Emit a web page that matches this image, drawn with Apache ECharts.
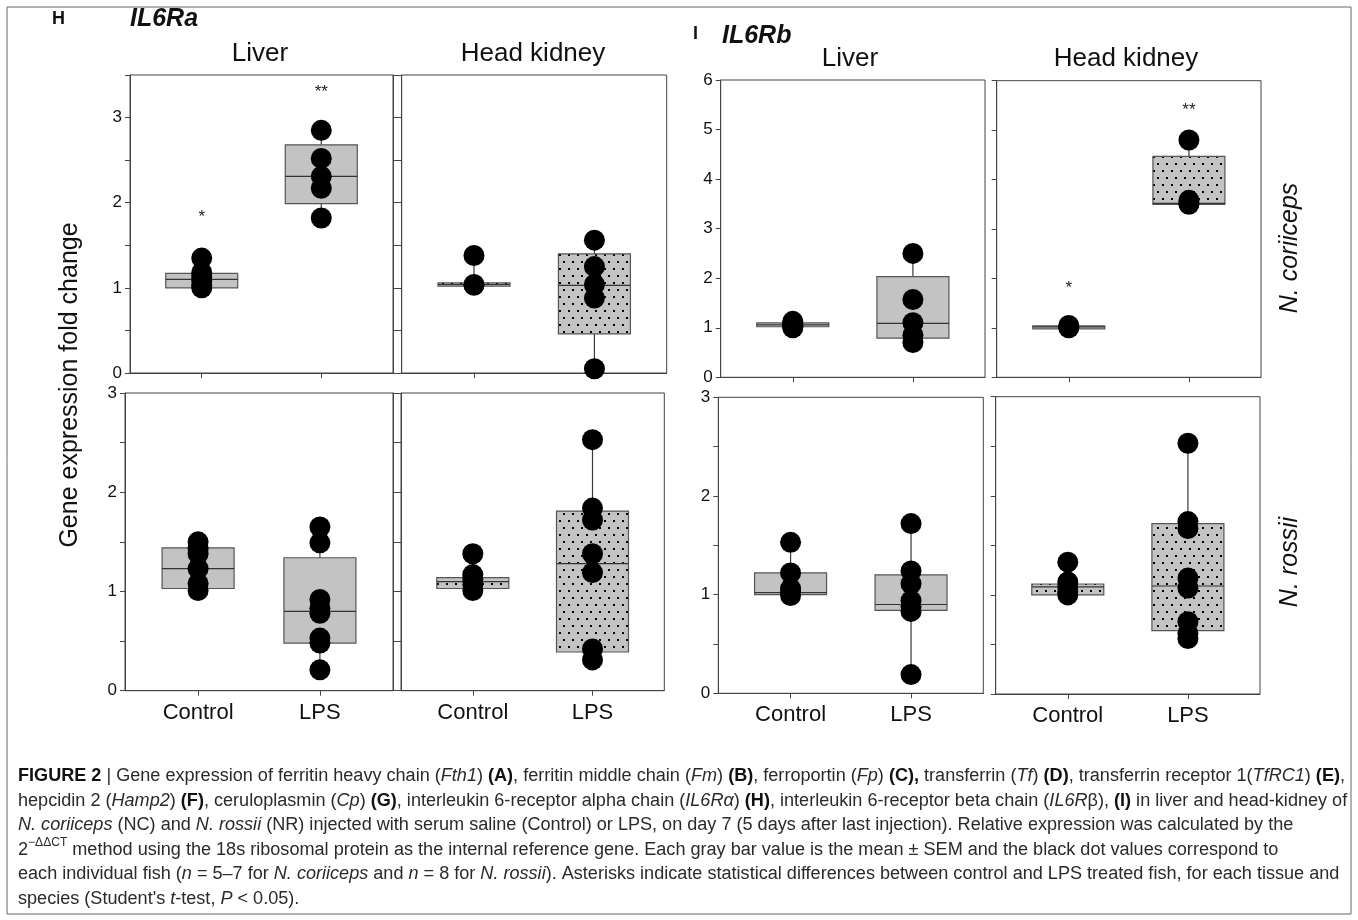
<!DOCTYPE html>
<html><head><meta charset="utf-8">
<script src="https://cdn.jsdelivr.net/npm/echarts@6/dist/echarts.min.js"></script>
<style>html,body{margin:0;padding:0;background:#fff}#c{width:1358px;height:920px}</style>
</head><body><div id="c"></div>
<script>
// ---------------- DATA ----------------
const categories = ['Control', 'LPS'];
const ticksTopRa = [0, 0.5, 1, 1.5, 2, 2.5, 3, 3.5];
const labelsTopRa = [0, 1, 2, 3];
const ticksTopRb = [0, 1, 2, 3, 4, 5, 6];
const labelsTopRb = [0, 1, 2, 3, 4, 5, 6];
const ticksBottom = [0, 0.5, 1, 1.5, 2, 2.5, 3];
const labelsBottom = [0, 1, 2, 3];

// box = [Q1, median, Q3] per category; whisker = [low, high]
// IL6Ra, N. coriiceps, liver
const raNcLiverBox = [[1.00, 1.10, 1.17], [1.99, 2.31, 2.68]];
const raNcLiverWhisker = [[1.00, 1.35], [1.82, 2.85]];
const raNcLiverPoints = [[1.35, 1.18, 1.13, 1.08, 1.03, 1.00], [2.85, 2.52, 2.31, 2.17, 1.82]];
const raNcLiverStars = [['*', 1.83], ['**', 3.30]];
// IL6Ra, N. coriiceps, head kidney
const raNcKidneyBox = [[1.02, 1.04, 1.06], [0.46, 1.03, 1.40]];
const raNcKidneyWhisker = [[1.02, 1.38], [0.05, 1.56]];
const raNcKidneyPoints = [[1.38, 1.04, 1.03], [1.56, 1.25, 1.04, 0.88, 0.05]];
const raNcKidneyStars = [null, null];
// IL6Ra, N. rossii, liver
const raNrLiverBox = [[1.03, 1.23, 1.44], [0.48, 0.80, 1.34]];
const raNrLiverWhisker = [[1.01, 1.50], [0.21, 1.65]];
const raNrLiverPoints = [[1.50, 1.43, 1.38, 1.23, 1.08, 1.01], [1.65, 1.49, 0.92, 0.83, 0.78, 0.53, 0.48, 0.21]];
const raNrLiverStars = [null, null];
// IL6Ra, N. rossii, head kidney
const raNrKidneyBox = [[1.03, 1.10, 1.14], [0.39, 1.28, 1.81]];
const raNrKidneyWhisker = [[1.01, 1.38], [0.31, 2.53]];
const raNrKidneyPoints = [[1.38, 1.17, 1.12, 1.07, 1.01], [2.53, 1.84, 1.72, 1.38, 1.19, 0.42, 0.31]];
const raNrKidneyStars = [null, null];
// IL6Rb, N. coriiceps, liver
const rbNcLiverBox = [[1.02, 1.06, 1.10], [0.79, 1.09, 2.03]];
const rbNcLiverWhisker = [[1.00, 1.13], [0.70, 2.50]];
const rbNcLiverPoints = [[1.13, 1.09, 1.05, 1.02, 1.00], [2.50, 1.57, 1.10, 0.85, 0.70]];
const rbNcLiverStars = [null, null];
// IL6Rb, N. coriiceps, head kidney
const rbNcKidneyBox = [[0.98, 1.02, 1.04], [3.50, 3.52, 4.47]];
const rbNcKidneyWhisker = [[0.98, 1.05], [3.50, 4.80]];
const rbNcKidneyPoints = [[1.05, 1.02, 1.00], [4.80, 3.58, 3.52, 3.50]];
const rbNcKidneyStars = [['*', 1.80], ['**', 5.41]];
// IL6Rb, N. rossii, liver
const rbNrLiverBox = [[1.00, 1.02, 1.22], [0.84, 0.90, 1.20]];
const rbNrLiverWhisker = [[0.99, 1.53], [0.19, 1.72]];
const rbNrLiverPoints = [[1.53, 1.22, 1.06, 1.03, 0.99], [1.72, 1.24, 1.11, 0.94, 0.88, 0.83, 0.19]];
const rbNrLiverStars = [null, null];
// IL6Rb, N. rossii, head kidney
const rbNrKidneyBox = [[1.00, 1.08, 1.11], [0.64, 1.09, 1.72]];
const rbNrKidneyWhisker = [[1.00, 1.33], [0.56, 2.53]];
const rbNrKidneyPoints = [[1.33, 1.13, 1.08, 1.03, 1.00], [2.53, 1.74, 1.67, 1.17, 1.07, 0.73, 0.61, 0.56]];
const rbNrKidneyStars = [null, null];

// ---------------- LAYOUT ----------------
const FONT = '"Liberation Sans", Arial, Helvetica, sans-serif';
const panels = [
  {rect:[130, 75, 263, 298], yMax:3.5, ticks:ticksTopRa, labels:labelsTopRa, yLab:true, xLab:false, right:true, dotted:false,
   box:raNcLiverBox, whisker:raNcLiverWhisker, points:raNcLiverPoints, stars:raNcLiverStars},
  {rect:[401.7, 75, 265, 298], yMax:3.5, ticks:ticksTopRa, labels:labelsTopRa, yLab:false, xLab:false, right:false, dotted:true,
   box:raNcKidneyBox, whisker:raNcKidneyWhisker, points:raNcKidneyPoints, stars:raNcKidneyStars},
  {rect:[125, 393, 268, 297.7], yMax:3, ticks:ticksBottom, labels:labelsBottom, yLab:true, xLab:true, right:true, dotted:false,
   box:raNrLiverBox, whisker:raNrLiverWhisker, points:raNrLiverPoints, stars:raNrLiverStars},
  {rect:[401, 393, 263.3, 297.7], yMax:3, ticks:ticksBottom, labels:labelsBottom, yLab:false, xLab:true, right:false, dotted:true,
   box:raNrKidneyBox, whisker:raNrKidneyWhisker, points:raNrKidneyPoints, stars:raNrKidneyStars},
  {rect:[720.7, 80, 264.3, 297.3], yMax:6, ticks:ticksTopRb, labels:labelsTopRb, yLab:true, xLab:false, right:false, dotted:false,
   box:rbNcLiverBox, whisker:rbNcLiverWhisker, points:rbNcLiverPoints, stars:rbNcLiverStars},
  {rect:[996.7, 80.7, 264.3, 296.6], yMax:6, ticks:ticksTopRb, labels:labelsTopRb, yLab:false, xLab:false, right:false, dotted:true,
   box:rbNcKidneyBox, whisker:rbNcKidneyWhisker, points:rbNcKidneyPoints, stars:rbNcKidneyStars},
  {rect:[718.3, 397.3, 265, 296], yMax:3, ticks:ticksBottom, labels:labelsBottom, yLab:true, xLab:true, right:false, dotted:false,
   box:rbNrLiverBox, whisker:rbNrLiverWhisker, points:rbNrLiverPoints, stars:rbNrLiverStars},
  {rect:[995.7, 396.7, 264.3, 297.3], yMax:3, ticks:ticksBottom, labels:labelsBottom, yLab:false, xLab:true, right:false, dotted:true,
   box:rbNrKidneyBox, whisker:rbNrKidneyWhisker, points:rbNrKidneyPoints, stars:rbNrKidneyStars}
];

const AX = '#444';
const BOX_W = 72;
const BOX_FILL = '#c3c3c3';

// dotted fill tile (gray with staggered black dots)
const tile = document.createElement('canvas');
tile.width = 9; tile.height = 14;
(function () {
  const t = tile.getContext('2d');
  t.fillStyle = BOX_FILL; t.fillRect(0, 0, 9, 14);
  t.fillStyle = '#000';
  t.fillRect(1, 2, 2, 2);
  t.fillRect(5, 9, 2, 2);
})();
const dottedFill = {image:tile, repeat:'repeat'};

const grid = [], xAxis = [], yAxis = [], series = [];
panels.forEach((p, gi) => {
  grid.push({left:p.rect[0], top:p.rect[1], width:p.rect[2], height:p.rect[3],
    show:true, borderColor:AX, borderWidth:1, backgroundColor:'#fff'});
  xAxis.push({gridIndex:gi, type:'value', min:-0.6, max:1.6,
    axisLine:{show:true, onZero:false, lineStyle:{color:AX, width:1}},
    splitLine:{show:false},
    axisTick:{show:true, customValues:[0, 1], length:5, lineStyle:{color:AX}},
    axisLabel:{show:p.xLab, customValues:[0, 1], formatter:v => categories[Math.round(v)],
      fontSize:22, color:'#111', fontFamily:FONT, margin:11}});
  const yi = yAxis.length;
  yAxis.push({gridIndex:gi, type:'value', min:0, max:p.yMax,
    axisLine:{show:true, onZero:false, lineStyle:{color:AX, width:1}},
    splitLine:{show:false},
    axisTick:{show:true, customValues:p.ticks, length:5, lineStyle:{color:AX}},
    axisLabel:{show:p.yLab, customValues:p.labels, fontSize:17, color:'#111', fontFamily:FONT, margin:8}});
  if (p.right) {
    yAxis.push({gridIndex:gi, type:'value', min:0, max:p.yMax, position:'right',
      axisLine:{show:true, onZero:false, lineStyle:{color:AX}}, splitLine:{show:false},
      axisTick:{show:true, customValues:p.ticks, length:5, lineStyle:{color:AX}},
      axisLabel:{show:false}});
  }
  const base = {xAxisIndex:gi, yAxisIndex:yi, silent:true, animation:false};
  const fill = p.dotted ? dottedFill : BOX_FILL;
  series.push(Object.assign({type:'custom', z:3,
    data:p.box.map((b, i) => [i, b[0], b[1], b[2], p.whisker[i][0], p.whisker[i][1]]),
    encode:{x:0, y:[1, 2, 3, 4, 5]},
    renderItem:(params, api) => {
      const x = api.value(0);
      const q1 = api.coord([x, api.value(1)]), md = api.coord([x, api.value(2)]),
            q3 = api.coord([x, api.value(3)]), lo = api.coord([x, api.value(4)]),
            hi = api.coord([x, api.value(5)]);
      const h = BOX_W / 2;
      const ls = {stroke:'#3a3a3a', lineWidth:1.2};
      return {type:'group', children:[
        {type:'line', shape:{x1:lo[0], y1:lo[1], x2:q1[0], y2:q1[1]}, style:ls},
        {type:'line', shape:{x1:q3[0], y1:q3[1], x2:hi[0], y2:hi[1]}, style:ls},
        {type:'rect', shape:{x:q1[0] - h, y:q3[1], width:BOX_W, height:Math.max(q1[1] - q3[1], 1.5)},
          style:{fill:fill, stroke:'#555', lineWidth:1.2}},
        {type:'line', shape:{x1:md[0] - h, y1:md[1], x2:md[0] + h, y2:md[1]}, style:{stroke:'#333', lineWidth:1.2}}
      ]};
    }}, base));
  series.push(Object.assign({type:'scatter', z:4, symbol:'circle', symbolSize:21,
    itemStyle:{color:'#000', opacity:1},
    data:p.points.flatMap((arr, i) => arr.map(v => [i, v]))}, base));
  const starData = [];
  p.stars.forEach((s, i) => { if (s) starData.push([i, s[1], s[0]]); });
  if (starData.length) {
    series.push(Object.assign({type:'custom', z:5, data:starData, encode:{x:0, y:1},
      renderItem:(params, api) => {
        const c = api.coord([api.value(0), api.value(1)]);
        return {type:'text', x:c[0], y:c[1], style:{text:starData[params.dataIndex][2],
          fontSize:17, fontFamily:FONT, fill:'#222', align:'center', verticalAlign:'middle'}};
      }}, base));
  }
});

// ---------------- TEXT GRAPHICS ----------------
const graphic = [
  {type:'rect', shape:{x:7, y:7, width:1344, height:907}, style:{fill:'none', stroke:'#666', lineWidth:1}, z:0, silent:true},
  {type:'text', x:52, y:19, style:{text:'H', font:'bold 18px ' + FONT, fill:'#111', verticalAlign:'middle'}},
  {type:'text', x:130, y:19, style:{text:'IL6Ra', font:'italic bold 25px ' + FONT, fill:'#111', verticalAlign:'middle'}},
  {type:'text', x:260, y:54, style:{text:'Liver', font:'26px ' + FONT, fill:'#111', align:'center', verticalAlign:'middle'}},
  {type:'text', x:533, y:54, style:{text:'Head kidney', font:'26px ' + FONT, fill:'#111', align:'center', verticalAlign:'middle'}},
  {type:'text', x:693, y:34, style:{text:'I', font:'bold 18px ' + FONT, fill:'#111', verticalAlign:'middle'}},
  {type:'text', x:722, y:36, style:{text:'IL6Rb', font:'italic bold 25px ' + FONT, fill:'#111', verticalAlign:'middle'}},
  {type:'text', x:850, y:59, style:{text:'Liver', font:'26px ' + FONT, fill:'#111', align:'center', verticalAlign:'middle'}},
  {type:'text', x:1126, y:59, style:{text:'Head kidney', font:'26px ' + FONT, fill:'#111', align:'center', verticalAlign:'middle'}},
  {type:'text', x:70, y:385, rotation:Math.PI / 2, style:{text:'Gene expression fold change', font:'25px ' + FONT, fill:'#111', align:'center', verticalAlign:'middle'}},
  {type:'text', x:1290, y:248, rotation:Math.PI / 2, style:{text:'N. coriiceps', font:'italic 25px ' + FONT, fill:'#111', align:'center', verticalAlign:'middle'}},
  {type:'text', x:1290, y:562, rotation:Math.PI / 2, style:{text:'N. rossii', font:'italic 25px ' + FONT, fill:'#111', align:'center', verticalAlign:'middle'}}
];

// caption
const captionLines = [
  [['b','FIGURE 2 '],['n','| Gene expression of ferritin heavy chain ('],['i','Fth1'],['n',') '],['b','(A)'],['n',', ferritin middle chain ('],['i','Fm'],['n',') '],['b','(B)'],['n',', ferroportin ('],['i','Fp'],['n',') '],['b','(C),'],['n',' transferrin ('],['i','Tf'],['n',') '],['b','(D)'],['n',', transferrin receptor 1('],['i','TfRC1'],['n',') '],['b','(E)'],['n',',']],
  [['n','hepcidin 2 ('],['i','Hamp2'],['n',') '],['b','(F)'],['n',', ceruloplasmin ('],['i','Cp'],['n',') '],['b','(G)'],['n',', interleukin 6-receptor alpha chain ('],['i','IL6Rα'],['n',') '],['b','(H)'],['n',', interleukin 6-receptor beta chain ('],['i','IL6R'],['n','β), '],['b','(I)'],['n',' in liver and head-kidney of']],
  [['i','N. coriiceps'],['n',' (NC) and '],['i','N. rossii'],['n',' (NR) injected with serum saline (Control) or LPS, on day 7 (5 days after last injection). Relative expression was calculated by the']],
  [['n','2'],['s','−ΔΔCT'],['n',' method using the 18s ribosomal protein as the internal reference gene. Each gray bar value is the mean ± SEM and the black dot values correspond to']],
  [['n','each individual fish ('],['i','n'],['n',' = 5–7 for '],['i','N. coriiceps'],['n',' and '],['i','n'],['n',' = 8 for '],['i','N. rossii'],['n','). Asterisks indicate statistical differences between control and LPS treated fish, for each tissue and']],
  [['n','species (Student\'s '],['i','t'],['n','-test, '],['i','P'],['n',' < 0.05).']]
];
const CAP_SIZE = 18;
function capFont(t) {
  if (t === 'b') return 'bold ' + CAP_SIZE + 'px ' + FONT;
  if (t === 'i') return 'italic ' + CAP_SIZE + 'px ' + FONT;
  if (t === 's') return '12px ' + FONT;
  return CAP_SIZE + 'px ' + FONT;
}
const mctx = document.createElement('canvas').getContext('2d');
function segWidth(seg) { mctx.font = capFont(seg[0]); return mctx.measureText(seg[1]).width; }
const line1W = captionLines[0].reduce((a, s) => a + segWidth(s), 0);
const capScale = 1327 / line1W;
const capChildren = [];
captionLines.forEach((line, li) => {
  const y = 776 + li * 24.6;
  let x = 0;
  line.forEach(seg => {
    capChildren.push({type:'text', x:x, y:seg[0] === 's' ? y - 7 : y,
      style:{text:seg[1], font:capFont(seg[0]), fill:seg[0] === 'b' ? '#111' : '#2a2a2a', verticalAlign:'middle'}});
    x += segWidth(seg);
  });
});
graphic.push({type:'group', x:18, y:0, scaleX:capScale, scaleY:1, children:capChildren});

const chart = echarts.init(document.getElementById('c'), null, {renderer:'canvas'});
chart.setOption({animation:false, backgroundColor:'#fff', grid, xAxis, yAxis, series, graphic});
</script>
</body></html>
